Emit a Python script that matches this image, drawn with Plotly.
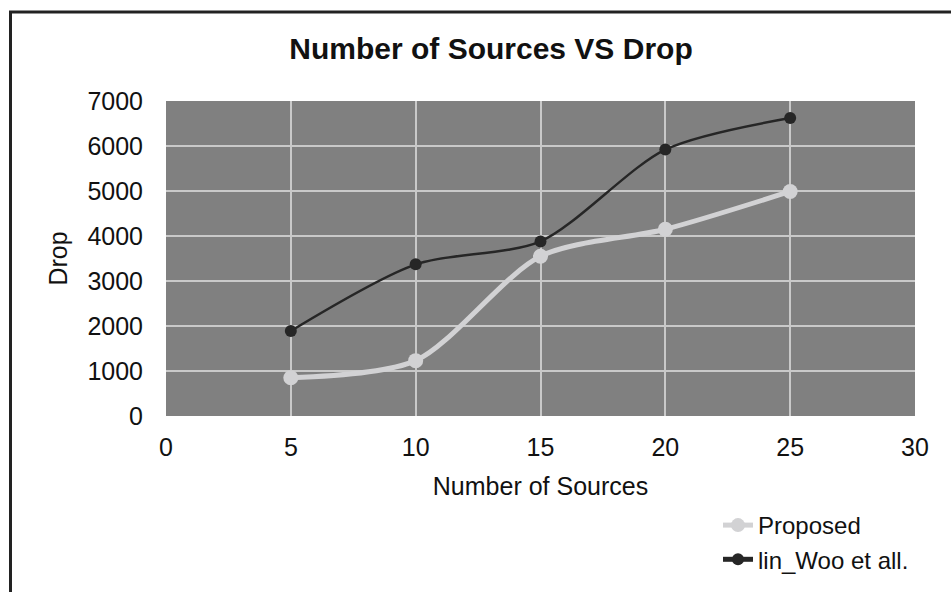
import plotly.graph_objects as go

sources = [5, 10, 15, 20, 25]
proposed = [850, 1230, 3550, 4150, 4990]
lin_woo = [1890, 3370, 3880, 5920, 6620]
series_names = ["Proposed", "lin_Woo et all."]

W, H = 951, 592
L, R, T, B = 166, 36, 101, 176
pw = W - L - R
ph = H - T - B

LIGHT, DARK = "#d2d2d4", "#262626"

fig = go.Figure()
fig.add_trace(go.Scatter(
    x=sources, y=proposed, name=series_names[0], mode="lines+markers",
    line=dict(color=LIGHT, width=5, shape="spline", smoothing=0.8),
    marker=dict(color=LIGHT, size=15), showlegend=False, legendgroup="p",
))
fig.add_trace(go.Scatter(
    x=sources, y=lin_woo, name=series_names[1], mode="lines+markers",
    line=dict(color=DARK, width=2.5, shape="spline", smoothing=0.8),
    marker=dict(color=DARK, size=12), showlegend=False, legendgroup="l",
))
# legend entries (legend samples in the reference use thick lines for both)
fig.add_trace(go.Scatter(
    x=[None], y=[None], name=series_names[0], mode="lines+markers",
    line=dict(color=LIGHT, width=5), marker=dict(color=LIGHT, size=14), legendgroup="p",
))
fig.add_trace(go.Scatter(
    x=[None], y=[None], name=series_names[1], mode="lines+markers",
    line=dict(color=DARK, width=5), marker=dict(color=DARK, size=12), legendgroup="l",
))

def px_x(p):
    return (p - L) / pw

def px_y(p):
    return (H - B - p) / ph

fig.add_shape(type="rect", xref="paper", yref="paper",
              x0=px_x(10.5), x1=px_x(970), y0=px_y(12), y1=px_y(610),
              line=dict(color="#222222", width=3), fillcolor="rgba(0,0,0,0)",
              layer="below")

font = "Liberation Sans, Arial, sans-serif"
fig.update_layout(
    width=W, height=H,
    margin=dict(l=L, r=R, t=T, b=B, autoexpand=False),
    paper_bgcolor="white",
    plot_bgcolor="#808080",
    font=dict(family=font, size=25, color="#111111"),
    title=dict(text="<b>Number of Sources VS Drop</b>", x=491 / W, xanchor="center",
               y=1 - 48 / H, yanchor="middle", font=dict(size=30, family=font, color="#111111")),
    xaxis=dict(range=[0, 30], tickvals=[0, 5, 10, 15, 20, 25, 30],
               showgrid=True, gridcolor="#c9c9c9", gridwidth=2, zeroline=False,
               showline=False, ticks="", ticklen=0, ticklabelstandoff=14,
               tickfont=dict(size=25),
               title=dict(text="Number of Sources", standoff=17, font=dict(size=25))),
    yaxis=dict(range=[0, 7000], tickvals=[0, 1000, 2000, 3000, 4000, 5000, 6000, 7000],
               showgrid=True, gridcolor="#c9c9c9", gridwidth=2, zeroline=False,
               showline=False, ticks="", ticklen=0, ticklabelstandoff=22,
               tickfont=dict(size=25),
               title=dict(text="Drop", standoff=12, font=dict(size=25))),
    legend=dict(x=px_x(718), y=px_y(503), xanchor="left", yanchor="top",
                bgcolor="rgba(0,0,0,0)", font=dict(size=24), tracegroupgap=0,
                itemwidth=30),
    showlegend=True,
)

fig.write_html("out.html")
